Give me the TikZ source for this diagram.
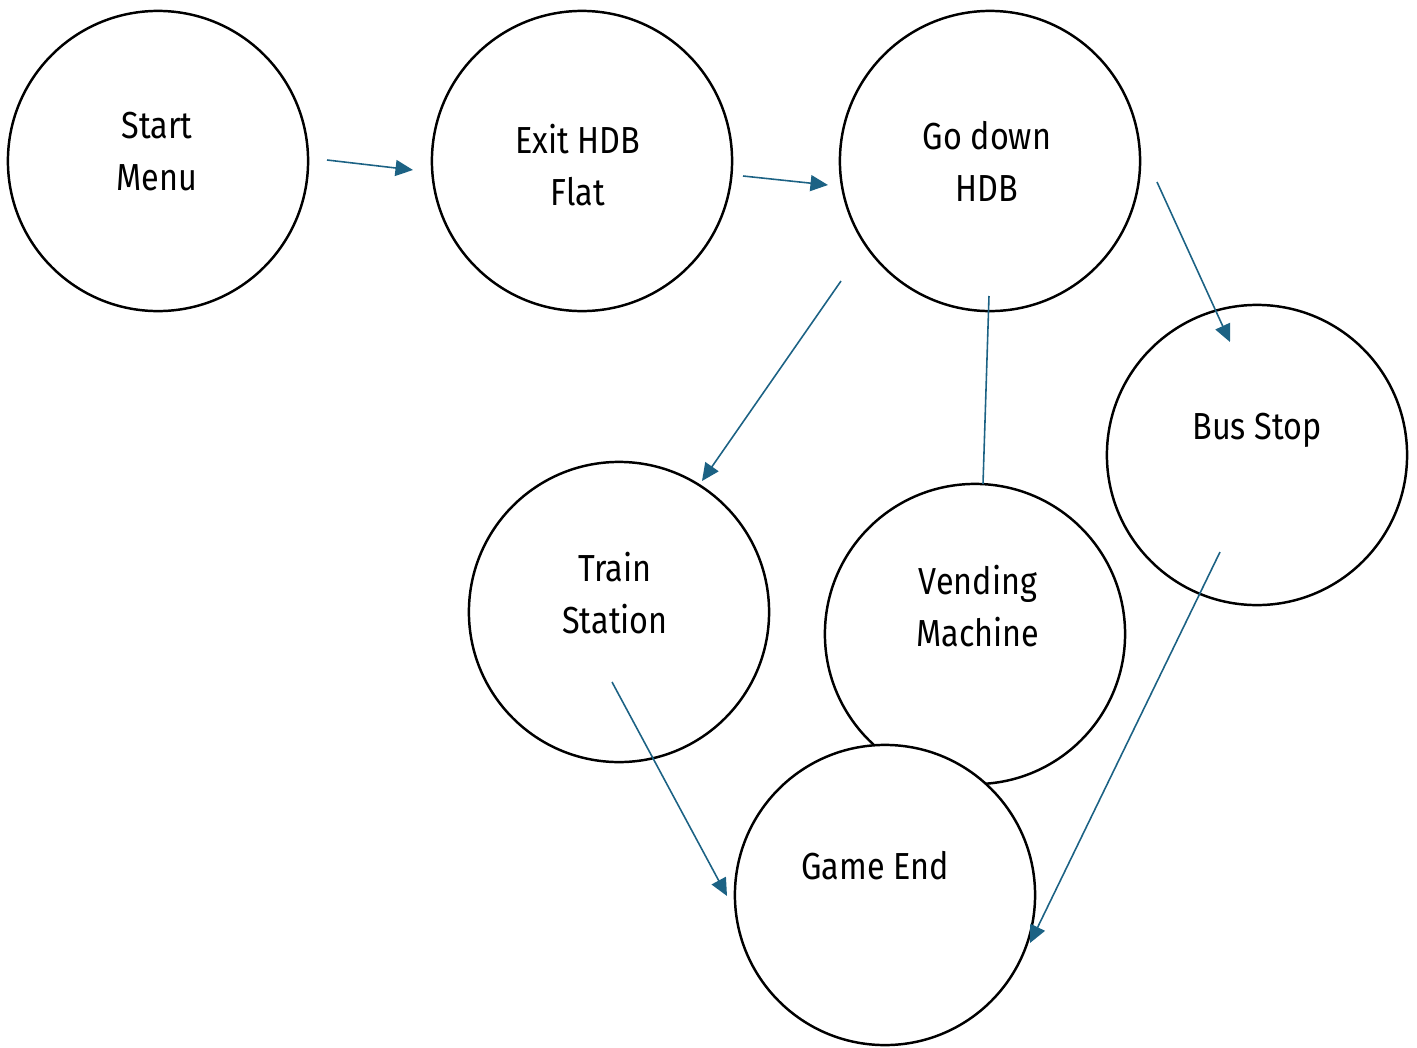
\documentclass[tikz,border=0pt]{standalone}
\usepackage{fontspec}
\setmainfont{Fira Sans}[FakeStretch=0.86]
\usetikzlibrary{arrows.meta,calc}
\definecolor{linkblue}{RGB}{28,98,132}

\begin{document}
\begin{tikzpicture}[x=0.01cm, y=-0.01cm,
    state/.style={draw, circle, line width=0.7pt, fill=white, minimum size=3cm, inner sep=0pt},
    statetext/.style={align=center, font=\fontsize{10.7}{14.8}\selectfont},
    link/.style={linkblue, line width=0.45pt, -{Triangle[length=1.75mm, width=1.6mm]}}]
    \useasboundingbox (0, 0) rectangle (1417, 1048);

    % States
    \node[state] (start) at (158, 161) {};
    \node[state] (exit) at (582, 161) {};
    \node[state] (godown) at (990, 161) {};
    \node[state] (bus) at (1257, 455) {};
    \node[state] (train) at (619, 612) {};
    \node[state] (vending) at (975, 634) {};
    \node[state] (gameend) at (885, 895) {}; % sits over vending

    % Labels of the states
    \node[statetext] (start-t) at ($(start)+(-1, -9)$) {Start\\Menu};
    \node[statetext] (exit-t) at ($(exit)+(-4, 4)$) {Exit HDB\\Flat};
    \node[statetext] (godown-t) at ($(godown)+(-3, 0)$) {Go down\\HDB};
    \node[statetext] (bus-t) at ($(bus)+(0, -25)$) {Bus Stop};
    \node[statetext] (train-t) at ($(train)+(-4, -19)$) {Train\\Station};
    \node[statetext] (vending-t) at ($(vending)+(3, -28)$) {Vending\\Machine};
    \node[statetext] (gameend-t) at ($(gameend)+(-10, -29)$) {Game End};

    % Transitions
    \draw[link] ($(start)+(169, -1)$) -- ($(exit)+(-169, 9)$);
    \draw[link] ($(exit)+(161, 15)$) -- ($(godown)+(-162, 24)$);
    \draw[link] ($(godown)+(167, 21)$) -- ($(bus)+(-27, -113)$);
    \draw[link] ($(godown)+(-149, 120)$) -- ($(train)+(83, -131)$);
    \draw[linkblue, line width=0.45pt] ($(vending)+(8, -150)$) -- ($(godown)+(-1, 135)$); % no tip
    \draw[link] ($(train)+(-7, 70)$) -- ($(gameend)+(-158, 1)$);
    \draw[link] ($(bus)+(-37, 97)$) -- ($(gameend)+(145, 48)$);
\end{tikzpicture}
\end{document}
